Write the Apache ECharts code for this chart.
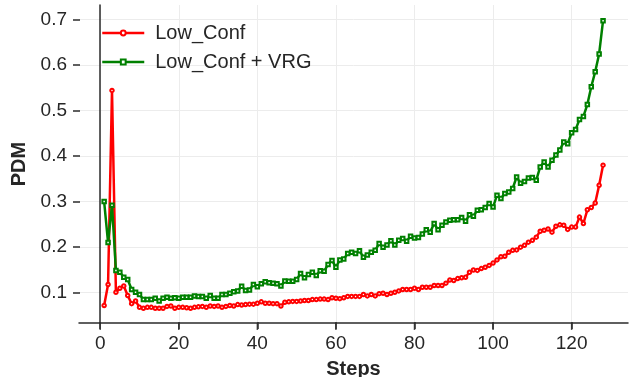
<!DOCTYPE html>
<html>
<head>
<meta charset="utf-8">
<script src="https://cdn.jsdelivr.net/npm/echarts@6/dist/echarts.min.js"></script>
<style>
html,body{margin:0;padding:0;background:#fff;}
#chart{width:636px;height:377px;}
</style>
</head>
<body>
<div id="chart"></div>
<script>
const seriesNames = ['Low_Conf', 'Low_Conf + VRG'];
const xTicks = [0, 20, 40, 60, 80, 100, 120];
const xTickStep = 20;
const yTickStep = 0.1;
const lowConf = [
  0.072, 0.118, 0.544, 0.101, 0.110, 0.115, 0.094, 0.076, 0.082, 0.068,
  0.066, 0.068, 0.068, 0.066, 0.066, 0.066, 0.070, 0.071, 0.066, 0.068,
  0.068, 0.067, 0.066, 0.068, 0.069, 0.070, 0.068, 0.071, 0.070, 0.071,
  0.068, 0.070, 0.072, 0.071, 0.074, 0.073, 0.074, 0.075, 0.075, 0.077,
  0.080, 0.077, 0.077, 0.076, 0.076, 0.071, 0.079, 0.080, 0.081, 0.081,
  0.082, 0.083, 0.083, 0.085, 0.085, 0.086, 0.086, 0.085, 0.089, 0.088,
  0.087, 0.089, 0.092, 0.092, 0.092, 0.092, 0.096, 0.093, 0.096, 0.093,
  0.098, 0.099, 0.096, 0.099, 0.101, 0.104, 0.107, 0.107, 0.107, 0.110,
  0.107, 0.112, 0.112, 0.112, 0.116, 0.116, 0.116, 0.121, 0.128, 0.127,
  0.131, 0.133, 0.134, 0.145, 0.150, 0.149, 0.153, 0.156, 0.160, 0.165,
  0.172, 0.179, 0.180, 0.189, 0.193, 0.194, 0.200, 0.204, 0.211, 0.215,
  0.222, 0.235, 0.237, 0.240, 0.233, 0.246, 0.249, 0.248, 0.239, 0.244,
  0.244, 0.266, 0.252, 0.282, 0.287, 0.297, 0.336, 0.380
];
const lowConfVRG = [
  0.300, 0.210, 0.292, 0.149, 0.145, 0.134, 0.129, 0.107, 0.101, 0.096,
  0.085, 0.085, 0.085, 0.088, 0.082, 0.088, 0.090, 0.088, 0.089, 0.088,
  0.090, 0.090, 0.090, 0.093, 0.092, 0.092, 0.088, 0.094, 0.088, 0.088,
  0.096, 0.096, 0.099, 0.102, 0.104, 0.114, 0.105, 0.106, 0.118, 0.113,
  0.120, 0.124, 0.122, 0.121, 0.120, 0.115, 0.126, 0.125, 0.125, 0.129,
  0.142, 0.133, 0.140, 0.145, 0.138, 0.148, 0.147, 0.162, 0.171, 0.156,
  0.172, 0.174, 0.186, 0.189, 0.186, 0.192, 0.178, 0.183, 0.189, 0.193,
  0.208, 0.200, 0.205, 0.214, 0.205, 0.215, 0.219, 0.213, 0.224, 0.220,
  0.221, 0.229, 0.238, 0.233, 0.252, 0.238, 0.248, 0.255, 0.259, 0.260,
  0.260, 0.265, 0.257, 0.271, 0.268, 0.281, 0.282, 0.287, 0.296, 0.288,
  0.314, 0.307, 0.318, 0.321, 0.329, 0.354, 0.340, 0.344, 0.352, 0.353,
  0.347, 0.376, 0.387, 0.376, 0.391, 0.402, 0.413, 0.431, 0.427, 0.451,
  0.458, 0.480, 0.487, 0.513, 0.552, 0.585, 0.624, 0.697
];
const steps = lowConf.map((_, i) => i + 1);

const FONT = 'Arial, "Liberation Sans", sans-serif';
const TXT = '#262626';
const AX = '#2b2b2b';
const X_MIN = -5.4, X_MAX = 134.35, Y_MIN = 0.0336, Y_MAX = 0.7314;

const xLabelFmt = v => (Math.abs(v / xTickStep - Math.round(v / xTickStep)) < 1e-6 ? String(Math.round(v)) : '');
const yLabelFmt = v => (Math.abs(v / yTickStep - Math.round(v / yTickStep)) < 1e-6 ? v.toFixed(1) : '');
const tickLine = () => ({show: true, showMinLine: false, showMaxLine: false, lineStyle: {color: AX, width: 1.5}});
const hidden = () => ({show: false});

const chart = echarts.init(document.getElementById('chart'), null, {renderer: 'canvas'});
chart.setOption({
  animation: false,
  backgroundColor: '#ffffff',
  textStyle: {fontFamily: FONT},
  grid: [
    {left: 79, right: 8, top: 5, bottom: 54, containLabel: false, outerBoundsMode: 'none'},
    {left: 79, right: 8, top: 322, bottom: 48, containLabel: false, outerBoundsMode: 'none'},
    {left: 73, width: 7, top: 5, bottom: 54, containLabel: false, outerBoundsMode: 'none'}
  ],
  legend: {
    left: 96, top: 18, orient: 'vertical',
    itemWidth: 42, itemHeight: 6, itemGap: 9,
    lineStyle: {width: 2.5},
    textStyle: {fontSize: 20, color: TXT, fontFamily: FONT, padding: [0, 0, 0, 6], lineHeight: 20},
    data: seriesNames
  },
  xAxis: [
    {
      gridIndex: 0, type: 'value', min: X_MIN, max: X_MAX, splitNumber: 7,
      name: 'Steps', nameLocation: 'middle', nameGap: 36,
      nameTextStyle: {fontSize: 20, fontWeight: 'bold', color: TXT, fontFamily: FONT},
      axisLine: {show: true, lineStyle: {color: AX, width: 1.5}},
      axisTick: {show: false},
      axisLabel: {fontSize: 19, color: TXT, margin: 11, showMinLabel: false, showMaxLabel: false, formatter: xLabelFmt},
      splitLine: {show: true, showMinLine: false, showMaxLine: false, lineStyle: {color: '#ececec', width: 1}}
    },
    {
      gridIndex: 1, type: 'value', min: X_MIN, max: X_MAX, splitNumber: 7,
      axisLine: hidden(), axisTick: hidden(), axisLabel: hidden(), splitLine: tickLine()
    },
    {
      gridIndex: 2, type: 'value', min: 0, max: 1, show: false
    }
  ],
  yAxis: [
    {
      gridIndex: 0, type: 'value', min: Y_MIN, max: Y_MAX, splitNumber: 7,
      name: 'PDM', nameLocation: 'middle', nameGap: 42, nameRotate: 90,
      nameTextStyle: {fontSize: 20, fontWeight: 'bold', color: TXT, fontFamily: FONT},
      axisLine: {show: true, lineStyle: {color: AX, width: 1.5}},
      axisTick: {show: false},
      axisLabel: {fontSize: 19, color: TXT, margin: 12, showMinLabel: false, showMaxLabel: false, formatter: yLabelFmt},
      splitLine: {show: true, showMinLine: false, showMaxLine: false, lineStyle: {color: '#ececec', width: 1}}
    },
    {
      gridIndex: 1, type: 'value', min: 0, max: 1, show: false
    },
    {
      gridIndex: 2, type: 'value', min: Y_MIN, max: Y_MAX, splitNumber: 7,
      axisLine: hidden(), axisTick: hidden(), axisLabel: hidden(), splitLine: tickLine()
    }
  ],
  series: [
    {
      name: seriesNames[0], type: 'line', xAxisIndex: 0, yAxisIndex: 0,
      data: steps.map((s, i) => [s, lowConf[i]]),
      symbol: 'emptyCircle', symbolSize: 3.5, showAllSymbol: true,
      lineStyle: {color: '#ff0000', width: 2.5},
      itemStyle: {color: '#ff0000', borderWidth: 1},
      z: 2
    },
    {
      name: seriesNames[1], type: 'line', xAxisIndex: 0, yAxisIndex: 0,
      data: steps.map((s, i) => [s, lowConfVRG[i]]),
      symbol: 'emptyRect', symbolSize: 3.5, showAllSymbol: true,
      lineStyle: {color: '#008000', width: 2.5},
      itemStyle: {color: '#008000', borderWidth: 1},
      z: 3
    },
    {
      name: 'xTickMarks', type: 'scatter', xAxisIndex: 0, yAxisIndex: 0,
      data: xTicks.map(t => [t, Y_MIN]),
      symbol: 'rect', symbolSize: [1.5, 7], symbolOffset: [0, 3.5], silent: true, clip: false,
      itemStyle: {color: AX}, z: 5
    }
  ]
});
</script>
</body>
</html>
